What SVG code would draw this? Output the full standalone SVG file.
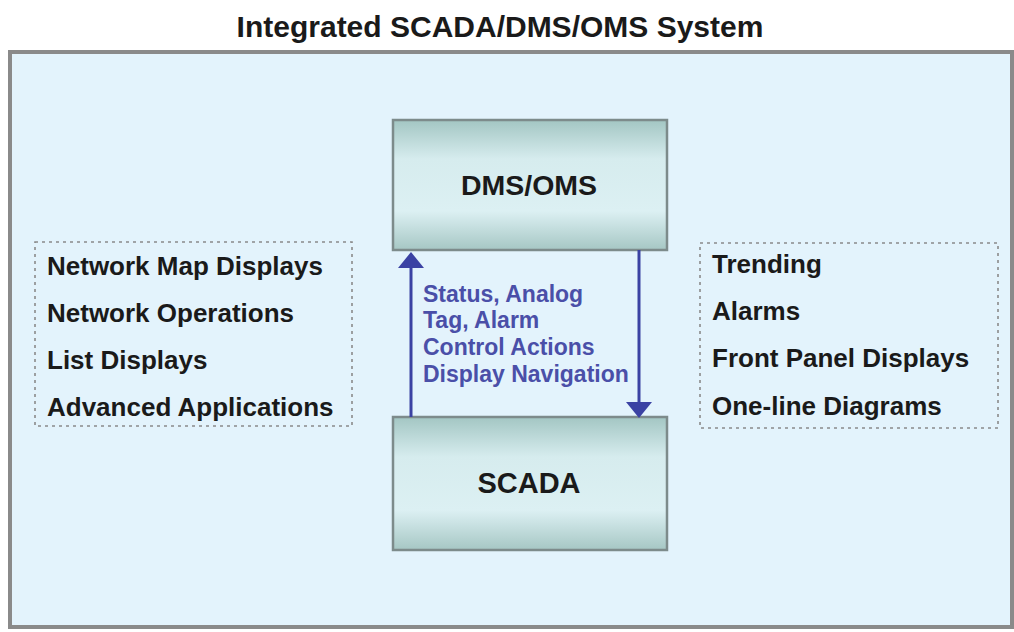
<svg xmlns="http://www.w3.org/2000/svg" width="1014" height="632" viewBox="0 0 1014 632">
<defs>
<linearGradient id="boxg" x1="0" y1="0" x2="0" y2="1">
<stop offset="0" stop-color="#a3c6c3"/>
<stop offset="0.3" stop-color="#d6ecee"/>
<stop offset="0.7" stop-color="#dcf0f3"/>
<stop offset="1" stop-color="#a6c7c4"/>
</linearGradient>
</defs>
<style>
.t{font-family:"Liberation Sans",Arial,sans-serif;font-weight:bold;fill:#1a1a1a}
.node{fill:url(#boxg);stroke:#7d8b8b;stroke-width:2.5}
.list{fill:none;stroke:#8a8a8a;stroke-width:1.6;stroke-dasharray:3 4}
.li{font-size:26px}
.blue{font-family:"Liberation Sans",Arial,sans-serif;font-weight:bold;fill:#4a4fa8;font-size:23px}
.conn{stroke:#3b42a3;stroke-width:3;fill:none}
.head{fill:#3b42a3}
</style>
<rect x="0" y="0" width="1014" height="632" fill="#ffffff"/>
<text class="t" x="500" y="37" font-size="30" text-anchor="middle">Integrated SCADA/DMS/OMS System</text>
<rect id="frame" x="10" y="52" width="1002" height="575" fill="#e3f3fc" stroke="#8a8a8a" stroke-width="4"/>
<g id="dmsoms">
<rect class="node" x="393" y="120" width="274" height="130"/>
<text class="t" x="529" y="195" font-size="28.5" text-anchor="middle">DMS/OMS</text>
</g>
<g id="scada">
<rect class="node" x="393" y="417" width="274" height="133"/>
<text class="t" x="529" y="493" font-size="29" text-anchor="middle">SCADA</text>
</g>
<g id="left-list">
<rect class="list" x="35" y="242" width="317" height="184"/>
<text class="t li" x="47" y="275">Network Map Displays</text>
<text class="t li" x="47" y="322">Network Operations</text>
<text class="t li" x="47" y="369">List Displays</text>
<text class="t li" x="47" y="416">Advanced Applications</text>
</g>
<g id="right-list">
<rect class="list" x="700" y="243" width="298" height="185"/>
<text class="t li" x="712" y="273">Trending</text>
<text class="t li" x="712" y="320">Alarms</text>
<text class="t li" x="712" y="367">Front Panel Displays</text>
<text class="t li" x="712" y="415">One-line Diagrams</text>
</g>
<g id="connectors">
<line class="conn" x1="411" y1="417" x2="411" y2="266"/>
<path class="head" d="M398,268 L411,252 L424,268 z"/>
<line class="conn" x1="639" y1="250" x2="639" y2="403"/>
<path class="head" d="M626,402 L639,418 L652,402 z"/>
<text class="blue" x="423" y="302">Status, Analog</text>
<text class="blue" x="423" y="328">Tag, Alarm</text>
<text class="blue" x="423" y="355">Control Actions</text>
<text class="blue" x="423" y="382">Display Navigation</text>
</g>
</svg>
